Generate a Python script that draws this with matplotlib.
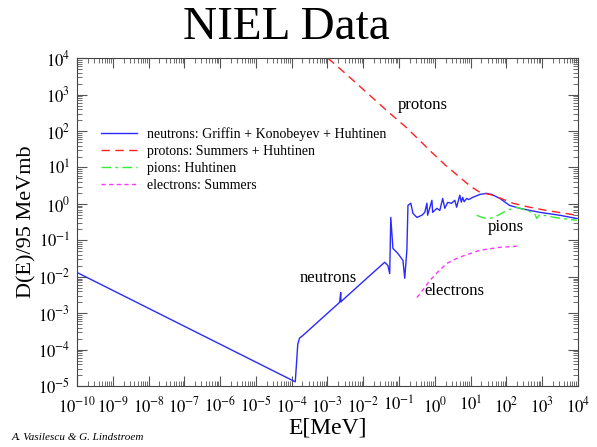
import numpy as np
import matplotlib
matplotlib.use("Agg")
import matplotlib.pyplot as plt
from matplotlib.ticker import LogLocator, FuncFormatter

plt.rcParams['font.family'] = ['Liberation Serif', 'DejaVu Serif']
plt.rcParams['mathtext.fontset'] = 'stix'

# values, as log10(E/MeV) and log10(D/95 MeVmb)
neutron_logE = [-10.0, -3.9, -3.86, -3.83, -3.78, -3.7, -3.0, -2.66, -2.63, -2.62, -2.6,
                -1.8, -1.40, -1.31, -1.26, -1.23, -1.17, -1.03, -0.89, -0.84, -0.78,
                -0.75, -0.67, -0.61, -0.50, -0.36, -0.28, -0.22, -0.20, -0.08, -0.06,
                0.06, 0.14, 0.22, 0.28, 0.36, 0.47, 0.56, 0.61, 0.70, 0.74, 0.78, 0.82,
                0.89, 0.95, 1.06, 1.26, 1.45, 1.59, 1.82, 2.09, 2.37, 2.93, 3.49, 3.97]
neutron_logD = [-1.88, -4.88, -4.3, -3.85, -3.68, -3.62, -3.0, -2.70, -2.43, -2.69, -2.66,
                -1.95, -1.60, -1.69, -1.91, -0.37, -1.22, -1.36, -1.55, -2.04, -1.27,
                -0.04, 0.02, -0.26, -0.37, -0.31, -0.23, 0.02, -0.31, 0.10, -0.23,
                -0.12, -0.18, 0.15, -0.12, 0.04, 0.02, 0.10, -0.09, 0.24, 0.05, 0.18, 0.06,
                0.15, 0.12, 0.18, 0.26, 0.29, 0.26, 0.15, -0.04, -0.12, -0.23, -0.31, -0.40]

proton_logE = [-2.99, -2.5, -2.0, -1.5, -1.26, -0.8, -0.4, -0.06, 0.3, 0.70, 1.0, 1.26,
               1.62, 2.18, 2.6, 3.13, 3.97]
proton_logD = [4.0, 3.58, 3.14, 2.70, 2.49, 2.10, 1.72, 1.39, 1.06, 0.73, 0.48, 0.32,
               0.24, 0.02, -0.08, -0.18, -0.31]

pion_logE = [1.17, 1.35, 1.54, 1.75, 2.01, 2.29, 2.57, 2.79, 2.85, 2.93, 3.4, 3.97]
pion_logD = [-0.31, -0.38, -0.40, -0.32, -0.18, -0.09, -0.18, -0.26, -0.40, -0.29, -0.38, -0.45]

electron_logE = [-0.50, -0.30, -0.14, 0.10, 0.34, 0.60, 0.84, 1.26, 1.82, 2.29]
electron_logD = [-2.57, -2.32, -2.10, -1.85, -1.63, -1.50, -1.41, -1.27, -1.19, -1.16]

series_labels = ["neutrons: Griffin + Konobeyev + Huhtinen",
                 "protons: Summers + Huhtinen",
                 "pions: Huhtinen",
                 "electrons: Summers"]


def sci_label(v, pos):
    return r"$10^{%d}$" % int(round(np.log10(v)))


fig = plt.figure(figsize=(5.97, 4.47), dpi=100)
ax = fig.add_axes([0.129, 0.136, 0.839, 0.734])

ax.plot(10 ** np.array(neutron_logE), 10 ** np.array(neutron_logD),
        color='#2a2aff', lw=1.0, label=series_labels[0])
ax.plot(10 ** np.array(proton_logE), 10 ** np.array(proton_logD),
        color='#ff2020', lw=1.0, dashes=(6, 4), label=series_labels[1])
ax.plot(10 ** np.array(pion_logE), 10 ** np.array(pion_logD),
        color='#33ee33', lw=1.0, dashes=(7, 3, 2, 3), label=series_labels[2])
ax.plot(10 ** np.array(electron_logE), 10 ** np.array(electron_logD),
        color='#ff33ff', lw=1.0, dashes=(3, 2.5), label=series_labels[3])

ax.set_xscale('log')
ax.set_yscale('log')
ax.set_xlim(1e-10, 1e4)
ax.set_ylim(1e-5, 1e4)

ax.xaxis.set_major_locator(LogLocator(base=10, numticks=20))
ax.yaxis.set_major_locator(LogLocator(base=10, numticks=20))
ax.xaxis.set_minor_locator(LogLocator(base=10, subs=np.arange(2, 10), numticks=200))
ax.yaxis.set_minor_locator(LogLocator(base=10, subs=np.arange(2, 10), numticks=200))
ax.xaxis.set_major_formatter(FuncFormatter(sci_label))
ax.yaxis.set_major_formatter(FuncFormatter(sci_label))
ax.tick_params(which='both', direction='in', top=True, right=True, labelsize=12, color='#555555')
ax.tick_params(which='major', length=7, width=0.8)
ax.tick_params(axis='x', which='major', pad=7)
ax.tick_params(axis='y', which='major', pad=5)
ax.tick_params(which='minor', length=3.5, width=0.6)
for s in ax.spines.values():
    s.set_color('#444444')
    s.set_linewidth(0.8)

ax.set_xlabel("E[MeV]", fontsize=17, labelpad=1)
ax.set_ylabel("D(E)/95 MeVmb", fontsize=16, labelpad=1)

ax.text(10 ** -0.34, 10 ** 2.71, "protons", fontsize=12, ha='center', va='center')
ax.text(10 ** -2.99, 10 ** -2.02, "neutrons", fontsize=12, ha='center', va='center')
ax.text(10 ** 1.98, 10 ** -0.62, "pions", fontsize=12, ha='center', va='center')
ax.text(10 ** 0.56, 10 ** -2.40, "electrons", fontsize=12, ha='center', va='center')

ax.legend(loc='upper left', bbox_to_anchor=(0.048, 0.79), frameon=False, fontsize=10,
          handlelength=2.6, handletextpad=0.7, labelspacing=0.3, borderpad=0, borderaxespad=0)

fig.text(0.48, 0.938, "NIEL Data", fontsize=34, ha='center', va='center')
fig.text(0.02, 0.016, "A. Vasilescu & G. Lindstroem", fontsize=8, style='italic', ha='left')

fig.savefig("out.png", dpi=100)
